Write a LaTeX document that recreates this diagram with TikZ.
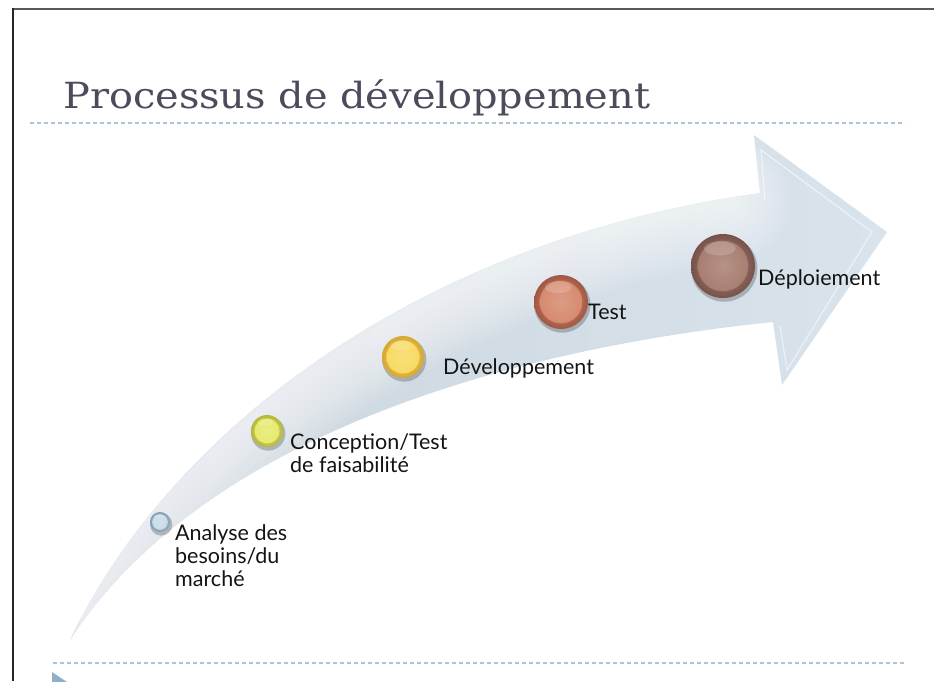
\documentclass[tikz,border=0pt]{standalone}
\usepackage{fontspec}
\usepackage{graphicx}
\newfontfamily\labelfont{Lato}
\newfontfamily\titlefont{DejaVu Serif}
\definecolor{titlecol}{HTML}{4B4B5C}
\definecolor{dashcol}{HTML}{AAC5D9}
\definecolor{arrowfill}{HTML}{D9E3EC}
\definecolor{arrowdark}{HTML}{CAD4DD}
\definecolor{triblue}{HTML}{8FB0CC}
\definecolor{bubA}{HTML}{C9DCEA}\definecolor{bubAd}{HTML}{7E9CB5}
\definecolor{bubB}{HTML}{E6EA6E}\definecolor{bubBd}{HTML}{B4B83A}
\definecolor{bubC}{HTML}{F8DA62}\definecolor{bubCd}{HTML}{D6A632}
\definecolor{bubD}{HTML}{D68A6F}\definecolor{bubDd}{HTML}{A25642}
\definecolor{bubE}{HTML}{A87E71}\definecolor{bubEd}{HTML}{77524A}
\tikzset{
  lbl/.style={font=\labelfont\fontsize{21.5}{23}\selectfont, text=black!92, inner sep=0pt, align=left, anchor=base west},
  dashline/.style={dashcol, line width=1.1pt, dash pattern=on 4pt off 3pt},
}
\begin{document}
\begin{tikzpicture}[x=1pt,y=-1pt]
\useasboundingbox (0,0) rectangle (934,681);
\fill[white] (0,0) rectangle (934,681);
% frame
\draw[black!65, line width=2pt] (13,9) -- (934,9);
\draw[black!85, line width=2pt] (13,8) -- (13,681);
% title
\node[anchor=base west, inner sep=0pt, text=titlecol] (title) at (63,108)
  {\resizebox{587pt}{\height}{\titlefont\fontsize{36}{40}\selectfont Processus de développement}};
% dashed rules
\draw[dashline] (30,123) -- (905,123);
\draw[dashline] (53,663) -- (905,663);
\fill[triblue] (52,672) -- (70,684) -- (52,696) -- cycle;
% arrow
\def\arrowpath{(70,640) .. controls (170,430) and (420,240) .. (760,193) -- (754,135) -- (887,232) -- (782,385) -- (773,322) .. controls (500,350) and (200,440) .. (70,640) -- cycle}
\shade[left color=arrowdark, right color=arrowfill] \arrowpath;
\begin{scope}
  \clip \arrowpath;
  \foreach \w in {120,112,...,8}
    \draw[white, line width=\w pt, opacity=0.07, line cap=round] (85,615) .. controls (180,440) and (420,255) .. (730,200);
  \draw[white, opacity=0.55, line width=1.2pt] (765,200) -- (761,150) -- (872,232) -- (787,370) -- (780,326);
\end{scope}
% bubbles
\foreach \n/\x/\y/\r/\c/\d in {banalyse/160/522/10/bubA/bubAd, bconception/267/431/16/bubB/bubBd, bdev/403/357/21/bubC/bubCd, btest/561/302/27/bubD/bubDd, bdeploy/723/266/32/bubE/bubEd}{
  \fill[black, opacity=0.22] (\x+1.2,\y+2.5) circle[radius=\r+1.2];
  \shade[inner color=\c!85!white, outer color=\d] (\x,\y) circle[radius=\r];
  \shade[inner color=\c!85!white, outer color=\c] (\x,\y) circle[radius=0.8*\r];
  \draw[\d, opacity=0.4, line width=0.6pt] (\x,\y) circle[radius=0.8*\r];
  \fill[white, opacity=0.18] (\x-0.1*\r,\y-0.55*\r) ellipse[x radius=0.5*\r, y radius=0.22*\r];
  \node[circle, inner sep=0pt, minimum size=2*\r pt] (\n) at (\x,\y) {};
}
% labels (anchor at baseline of last line)
\node[lbl] (lanalyse) at (175,586) {Analyse des\\besoins/du\\marché};
\node[lbl] (lconception) at (290,472) {Conception/Test\\de faisabilité};
\node[lbl] (ldev) at (443,374) {Développement};
\node[lbl] (ltest) at (588,319) {Test};
\node[lbl] (ldeploy) at (758,285) {Déploiement};
\end{tikzpicture}
\end{document}
